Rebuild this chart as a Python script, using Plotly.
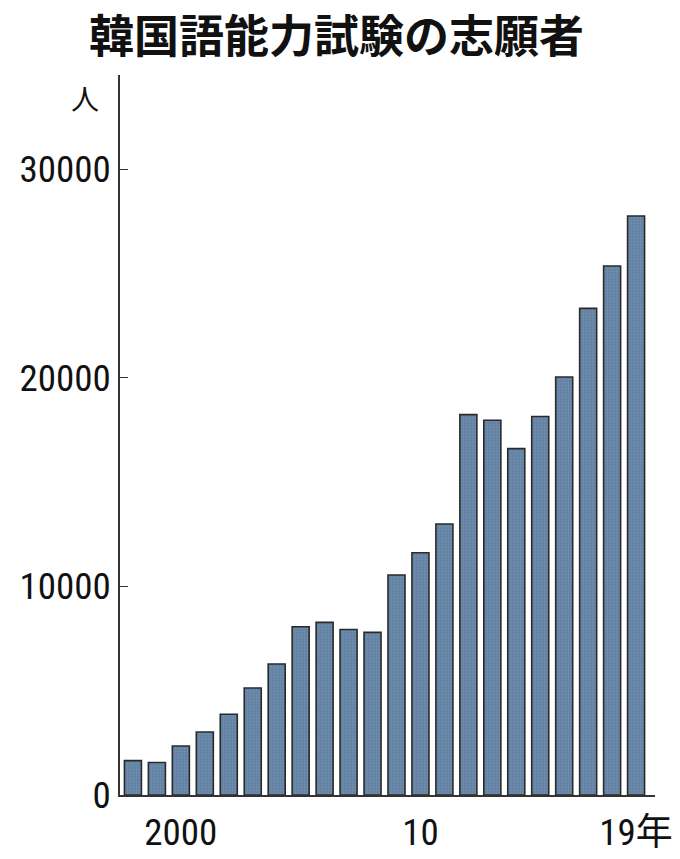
import plotly.graph_objects as go

years = list(range(1998, 2020))
applicants = [1650, 1560, 2350, 3020, 3870, 5130, 6280, 8070, 8280, 7940, 7800,
              10550, 11620, 13000, 18240, 17970, 16610, 18150, 20050, 23340, 25370, 27770]
y_ticks = [0, 10000, 20000, 30000]
x_tick_vals = [2000, 2010, 2019]
x_tick_text = ["2000", "10", "19年"]

font_num = "Liberation Sans Narrow, Roboto Condensed, Noto Sans CJK JP, sans-serif"

W, H = 680, 859

fig = go.Figure()
fig.add_trace(go.Bar(
    x=years, y=applicants, width=0.71,
    marker=dict(color="#6585a8",
                line=dict(color="#2a2a2a", width=1.6),
                pattern=dict(shape=".", fgcolor="#8e9aa6", bgcolor="#5f82a8", size=3, solidity=0.4)),
))

fig.update_layout(
    width=W, height=H,
    paper_bgcolor="white", plot_bgcolor="white",
    margin=dict(l=107, r=33, t=67, b=72),
    showlegend=False,
)
fig.add_annotation(text="<b>韓国語能力試験の志願者</b>", xref="paper", yref="paper",
                   x=(326 - 107) / 540, xanchor="center", y=1 + (67 - 26) / 720, yanchor="middle",
                   showarrow=False,
                   font=dict(family="Noto Sans CJK JP", size=45, color="#111"))
fig.update_xaxes(range=[1997.46, 2019.79], tickvals=x_tick_vals, ticktext=x_tick_text,
                 showline=True, linecolor="#333", linewidth=1.5, ticks="", showgrid=False,
                 ticklabelstandoff=4,
                 tickfont=dict(family=font_num, size=37, color="#111"), zeroline=False)
fig.update_yaxes(range=[0, 34530], tickvals=y_ticks, ticktext=[str(v) for v in y_ticks],
                 showline=True, linecolor="#333", linewidth=1.5, ticks="inside", ticklen=8,
                 tickcolor="#333", tickwidth=1.2, showgrid=False, zeroline=False,
                 tickfont=dict(family=font_num, size=37, color="#111"))
fig.add_annotation(text="人", xref="paper", yref="paper", x=-0.065, y=0.968, xanchor="center", yanchor="middle",
                   showarrow=False, font=dict(family="Noto Sans CJK JP", size=28, color="#111"))
fig.write_html("out.html")
